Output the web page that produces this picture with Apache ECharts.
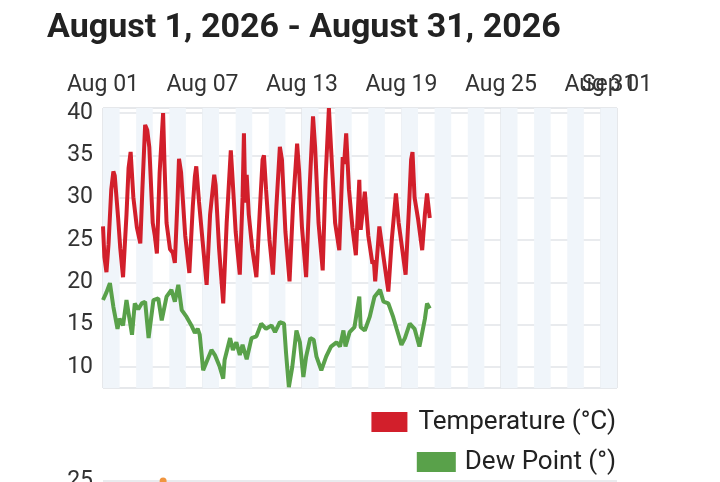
<!DOCTYPE html>
<html>
<head>
<meta charset="utf-8">
<script src="https://cdn.jsdelivr.net/npm/echarts@6/dist/echarts.min.js"></script>
<style>
html,body{margin:0;padding:0;background:#fff;}
#chart{width:720px;height:482px;}
</style>
</head>
<body>
<div id="chart"></div>
<script>
// Hours since 2026-08-01 00:00
const tempHours = [0,2,5,8,12,15,17,22,25,29,34,37,40,44,49,54,57,61,64,67,72,75,78,82,87,89,92,97,101,104,108,110,113,119,125,130,133,135,139,144,150,155,161,163,168,174,179,185,187,192,198,202,204,206,208,211,216,222,227,231,233,236,241,246,251,256,259,264,270,275,281,284,288,294,299,304,307,312,318,322,327,330,336,342,347,349,352,356,361,366,371,373,379,384,390,392,394,400,406,413,418,424,428,433,438,443,446,448,451,456,462,466,469,473];
const tempValues = [26.6,23.0,21.2,24.5,31.0,33.1,32.6,27.5,24.0,20.6,28.0,33.5,35.4,30.0,26.5,24.6,31.0,38.6,38.0,36.0,27.0,25.5,23.4,33.0,40.0,34.0,27.0,23.9,23.5,22.3,30.0,34.6,33.0,25.5,21.1,29.0,32.5,33.7,29.5,25.0,19.7,28.0,32.7,31.5,24.0,17.5,27.0,35.6,33.0,26.0,20.9,30.0,37.6,29.4,32.7,28.0,24.0,20.6,28.5,34.5,35.0,31.0,25.0,20.9,29.0,36.0,34.5,26.0,20.1,29.0,36.4,33.0,26.5,20.6,31.0,39.6,36.0,27.0,21.4,32.0,40.6,36.0,27.0,23.8,34.8,34.0,37.6,31.0,26.5,23.2,32.1,26.2,30.7,25.5,22.2,22.6,20.1,26.6,23.0,18.9,25.0,30.5,27.0,24.0,20.9,29.0,34.5,35.4,30.0,27.5,23.8,28.1,30.5,27.6];

const dewHours = [0,5,10,15,21,24,29,34,42,46,51,56,61,66,73,80,85,92,99,104,109,114,121,128,133,137,140,145,150,157,162,169,174,176,184,188,193,198,202,208,215,222,229,236,244,249,256,262,265,269,274,280,285,290,294,300,305,309,316,323,330,338,343,348,351,357,364,371,373,379,386,393,401,406,413,420,425,432,437,444,451,458,461,466,469,473];
const dewValues = [17.9,18.8,19.9,17.1,14.5,15.7,14.9,17.9,13.8,17.5,16.8,17.5,17.7,13.4,17.9,18.1,15.5,18.3,19.1,17.7,19.7,16.7,15.9,14.9,14.0,14.5,13.8,9.6,10.6,12.0,11.4,10.0,8.6,10.8,13.4,12.0,12.9,11.4,12.6,10.9,13.4,13.6,15.1,14.5,14.9,14.1,15.3,15.1,11.6,7.6,10.0,14.3,12.9,8.8,11.2,13.4,13.2,11.2,9.6,11.2,12.4,12.9,12.4,14.3,12.4,14.1,14.7,18.3,14.7,14.3,15.9,18.3,19.1,17.7,17.5,15.9,14.5,12.6,13.4,15.1,14.5,12.4,13.6,15.7,17.5,16.9];

// day boundaries from Aug 01 00:00 to Sep 01 00:00
const dayLabels = ['Aug 01','Aug 02','Aug 03','Aug 04','Aug 05','Aug 06','Aug 07','Aug 08','Aug 09','Aug 10','Aug 11','Aug 12','Aug 13','Aug 14','Aug 15','Aug 16','Aug 17','Aug 18','Aug 19','Aug 20','Aug 21','Aug 22','Aug 23','Aug 24','Aug 25','Aug 26','Aug 27','Aug 28','Aug 29','Aug 30','Aug 31','Sep 01'];
const xTickLabels = ['Aug 01','Aug 07','Aug 13','Aug 19','Aug 25','Aug 31','Sep 01'];

// second (lower) panel, only its top edge is visible
const lowerHours = [87];
const lowerValues = [25];

const seriesNames = ['Temperature (°C)', 'Dew Point (°)'];
const titleText = 'August 1, 2026 - August 31, 2026';

const chart = echarts.init(document.getElementById('chart'), null, {renderer: 'canvas'});
const FONT = 'Roboto, "Noto Sans", sans-serif';

chart.setOption({
  animation: false,
  backgroundColor: '#ffffff',
  title: {
    text: titleText,
    left: 42, top: 6,
    textStyle: {fontFamily: FONT, fontSize: 34, fontWeight: 'bold', color: '#222'}
  },
  legend: [
    {data: [seriesNames[0]], right: 99, top: 404, orient: 'vertical', icon: 'rect',
     itemWidth: 36, itemHeight: 20,
     textStyle: {fontFamily: FONT, fontSize: 26, color: '#222', padding: [0,0,0,6]}},
    {data: [seriesNames[1]], right: 99, top: 444, orient: 'vertical', icon: 'rect',
     itemWidth: 39, itemHeight: 20,
     textStyle: {fontFamily: FONT, fontSize: 26, color: '#222', padding: [0,0,0,4]}}
  ],
  grid: [
    {left: 103, right: 103, top: 108, bottom: 94, show: true, borderColor: '#e3e3e3', borderWidth: 1},
    {left: 103, right: 103, top: 481, height: 120, show: false}
  ],
  xAxis: [
    {
      // hours axis: carries the data and the vertical grid lines
      type: 'value', gridIndex: 0, position: 'bottom',
      min: 0, max: 744, interval: 144,
      axisLine: {show: false}, axisTick: {show: false}, axisLabel: {show: false},
      splitLine: {show: true, lineStyle: {color: '#e2e5e8', width: 1.5}}
    },
    {
      // day axis: day stripes and the date labels on top
      type: 'category', gridIndex: 0, position: 'top', data: dayLabels, boundaryGap: false,
      axisLine: {show: false}, axisTick: {show: false},
      axisLabel: {
        interval: 0, fontFamily: FONT, fontSize: 23, color: '#333', margin: 11,
        formatter: v => xTickLabels.indexOf(v) >= 0 ? v : ''
      },
      splitLine: {show: false},
      splitArea: {show: true, interval: 0, areaStyle: {color: ['#f0f5fa', 'rgba(255,255,255,0)']}}
    },
    {
      type: 'value', gridIndex: 1, min: 0, max: 744, show: false
    }
  ],
  yAxis: [
    {
      type: 'value', gridIndex: 0, min: 7.5, max: 40.6, minInterval: 5, maxInterval: 5,
      axisLine: {show: false}, axisTick: {show: false},
      axisLabel: {fontFamily: FONT, fontSize: 23, color: '#333', margin: 10, padding: [5,0,0,0],
                  showMinLabel: false, showMaxLabel: false},
      splitLine: {show: true, lineStyle: {color: '#e2e5e8', width: 1.5}}
    },
    {
      type: 'value', gridIndex: 1, min: 0, max: 25, minInterval: 5, maxInterval: 5,
      axisLine: {show: false}, axisTick: {show: false},
      axisLabel: {fontFamily: FONT, fontSize: 23, color: '#333', margin: 10, padding: [5,0,0,0], showMaxLabel: true},
      splitLine: {show: true, lineStyle: {color: '#e2e5e8', width: 1.5}}
    }
  ],
  series: [
    {
      name: seriesNames[0], type: 'line', xAxisIndex: 0, yAxisIndex: 0,
      data: tempHours.map((h, i) => [h, tempValues[i]]),
      showSymbol: false, z: 3,
      lineStyle: {color: '#d21f2b', width: 4},
      itemStyle: {color: '#d21f2b'}
    },
    {
      name: seriesNames[1], type: 'line', xAxisIndex: 0, yAxisIndex: 0,
      data: dewHours.map((h, i) => [h, dewValues[i]]),
      showSymbol: false, z: 3,
      lineStyle: {color: '#59a14a', width: 4},
      itemStyle: {color: '#59a14a'}
    },
    {
      name: 'lower', type: 'line', xAxisIndex: 2, yAxisIndex: 1,
      data: lowerHours.map((h, i) => [h, lowerValues[i]]),
      showSymbol: true, symbol: 'circle', symbolSize: 7,
      itemStyle: {color: '#f0953f'}, lineStyle: {color: '#f0953f', width: 2}
    }
  ]
});
</script>
</body>
</html>
